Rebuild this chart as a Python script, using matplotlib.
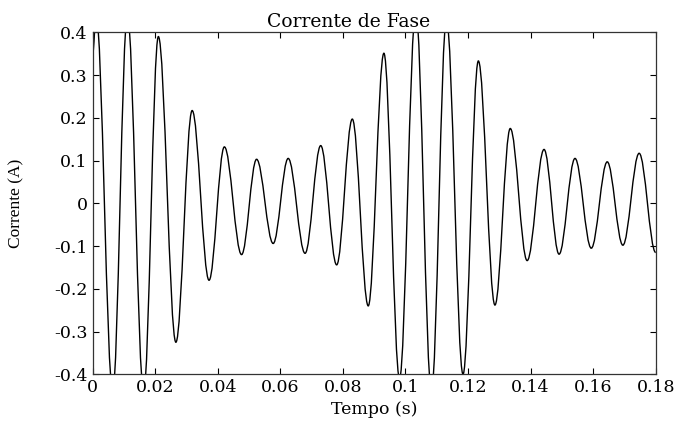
import matplotlib
matplotlib.use("Agg")
import matplotlib.pyplot as plt
from matplotlib.path import Path
from matplotlib.patches import PathPatch

# peaks and troughs of the phase current (s, A)
tempo = [0.0, 0.0011, 0.0064, 0.0111, 0.0163, 0.0210, 0.0266, 0.0318, 0.0372,
         0.0421, 0.0476, 0.0524, 0.0577, 0.0625, 0.0679, 0.0729, 0.0780,
         0.0830, 0.0881, 0.0931, 0.0981, 0.1033, 0.1083, 0.1131, 0.1184,
         0.1233, 0.1286, 0.1335, 0.1389, 0.1443, 0.1491, 0.1542, 0.1594,
         0.1645, 0.1695, 0.1747, 0.1800]
corrente = [0.35, 0.44, -0.44, 0.44, -0.44, 0.39, -0.325, 0.217, -0.18,
            0.132, -0.12, 0.103, -0.094, 0.105, -0.117, 0.135, -0.144,
            0.197, -0.24, 0.351, -0.41, 0.45, -0.44, 0.43, -0.40,
            0.333, -0.238, 0.175, -0.134, 0.126, -0.119, 0.105, -0.105,
            0.097, -0.098, 0.117, -0.115]

xticks = [0, 0.02, 0.04, 0.06, 0.08, 0.1, 0.12, 0.14, 0.16, 0.18]
xlabels = ['0', '0.02', '0.04', '0.06', '0.08', '0.1', '0.12', '0.14', '0.16', '0.18']
yticks = [-0.4, -0.3, -0.2, -0.1, 0, 0.1, 0.2, 0.3, 0.4]
ylabels = ['-0.4', '-0.3', '-0.2', '-0.1', '0', '0.1', '0.2', '0.3', '0.4']

fig = plt.figure(figsize=(6.79, 4.21), dpi=100)
ax = fig.add_axes([0.1365, 0.1109, 0.8292, 0.8124])

# smooth half-waves between consecutive extrema (bezier handles kept flat at the extrema)
k = 0.363
verts = [(tempo[0], corrente[0])]
codes = [Path.MOVETO]
for i in range(1, len(tempo)):
    dt = tempo[i] - tempo[i - 1]
    verts += [(tempo[i - 1] + k * dt, corrente[i - 1]),
              (tempo[i] - k * dt, corrente[i]),
              (tempo[i], corrente[i])]
    codes += [Path.CURVE4] * 3
ax.add_patch(PathPatch(Path(verts, codes), fill=False, edgecolor='black', linewidth=1.0))

ax.set_xlim(0, 0.18)
ax.set_ylim(-0.4, 0.4)
ax.set_xticks(xticks)
ax.set_xticklabels(xlabels, family='DejaVu Serif', fontsize=12.5)
ax.set_yticks(yticks)
ax.set_yticklabels(ylabels, family='DejaVu Serif', fontsize=12.5)
ax.tick_params(direction='in', length=4, width=0.8, top=True, right=True, pad=3.5)
for s in ax.spines.values():
    s.set_linewidth(0.9)
    s.set_color('#333333')

ax.set_title('Corrente de Fase', family='DejaVu Serif', fontsize=13.5, x=0.454, pad=4)
ax.set_xlabel('Tempo (s)', family='DejaVu Serif', fontsize=12.5)
ax.set_ylabel('Corrente (A)', family='Liberation Serif', fontsize=12.5)
ax.xaxis.set_label_coords(0.5, -0.078)
ax.yaxis.set_label_coords(-0.122, 0.5)

fig.savefig('out.png', dpi=100)
